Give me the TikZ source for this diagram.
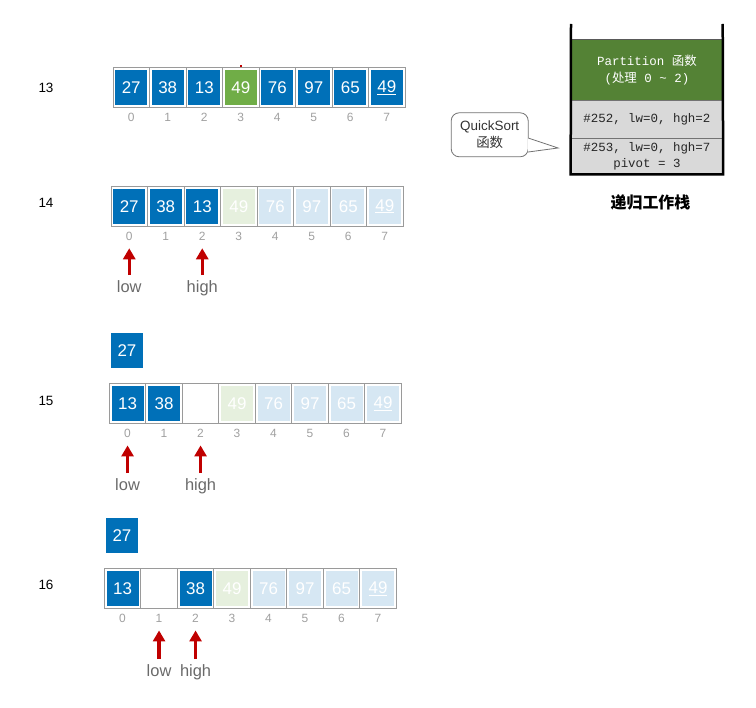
\documentclass[tikz,border=0pt]{standalone}
\usepackage{fontspec}
\setmainfont{Liberation Sans}
\newfontfamily\cjk{Noto Sans CJK SC}
\newfontfamily\mono{Liberation Mono}
\usetikzlibrary{arrows.meta}
\definecolor{cblue}{HTML}{0070B8}
\definecolor{cgreen}{HTML}{70AD47}
\definecolor{cpblue}{HTML}{D6E7F3}
\definecolor{cpgreen}{HTML}{E6F0DE}
\definecolor{cellline}{HTML}{9A9A9A}
\definecolor{idxgray}{HTML}{A0A0A0}
\definecolor{lblgray}{HTML}{6A6A6A}
\definecolor{arrred}{HTML}{C00000}
\definecolor{stkgreen}{HTML}{548235}
\definecolor{stkgray}{HTML}{D9D9D9}
\tikzset{
  cellbox/.style={draw=cellline, line width=1bp, fill=white, minimum width=36.5bp, minimum height=40.5bp, inner sep=0pt},
  cellin/.style={minimum width=32bp, minimum height=35bp, inner sep=0pt, text=white, font=\fontsize{17}{19}\selectfont},
  cb/.style={fill=cblue},
  cg/.style={fill=cgreen},
  cpb/.style={fill=cpblue},
  cpg/.style={fill=cpgreen},
  ce/.style={},
  idx/.style={text=idxgray, font=\fontsize{12}{13}\selectfont, inner sep=1bp, text height=8.5bp, text depth=0pt},
  rowlbl/.style={font=\fontsize{13.5}{15}\selectfont, text=black},
  ptr/.style={text=lblgray, font=\fontsize{16.5}{18}\selectfont, inner sep=0pt, text height=12bp, text depth=3.5bp},
  redarr/.style={draw=arrred, line width=3.2bp, -{Triangle[width=12bp,length=11bp]}, shorten <=5bp, shorten >=6.5bp},
  stkbox/.style={minimum width=151.7bp, inner sep=0pt, align=center},
  wall/.style={draw=black, line width=2.5bp}
}
\newcommand{\cellrow}[4]{% name, x0, yc, list
  \foreach \i/\v/\s in {#4} {
    \node[cellbox] (#1c\i) at ({#2+36.5*(\i+0.5)}, #3) {};
    \node[cellin,\s] (#1v\i) at (#1c\i) {\v};
    \node[idx] (#1i\i) at ({#2+36.5*(\i+0.5)}, #3+30) {\i};
  }
}
\begin{document}
\begin{tikzpicture}[x=1bp,y=-1bp]
\useasboundingbox (0,0) rectangle (756,708);

% row labels
\node[rowlbl] (l13) at (46,88) {13};
\node[rowlbl] (l14) at (46,203) {14};
\node[rowlbl] (l15) at (46,401) {15};
\node[rowlbl] (l16) at (46,585) {16};

% row 13
\cellrow{r13}{113}{87.5}{0/27/cb,1/38/cb,2/13/cb,3/49/cg,4/76/cb,5/97/cb,6/65/cb,7/\underline{49}/cb}
\draw[arrred, line width=1.5bp] (r13c3.north) -- ++(0,-2);

% row 14
\cellrow{r14}{111}{206.3}{0/27/cb,1/38/cb,2/13/cb,3/49/cpg,4/76/cpb,5/97/cpb,6/65/cpb,7/\underline{49}/cpb}
\node[ptr] (low14) at (r14i0 |- 0,288) {low};
\node[ptr] (high14) at (r14i2 |- 0,288) {high};
\draw[redarr] (low14.north) -- (r14i0.south);
\draw[redarr] (high14.north) -- (r14i2.south);

% row 15
\node[cellin,cb] (t15) at (127,350.3) {27};
\cellrow{r15}{109.3}{403.5}{0/13/cb,1/38/cb,2//ce,3/49/cpg,4/76/cpb,5/97/cpb,6/65/cpb,7/\underline{49}/cpb}
\node[ptr] (low15) at (r15i0 |- 0,486) {low};
\node[ptr] (high15) at (r15i2 |- 0,486) {high};
\draw[redarr] (low15.north) -- (r15i0.south);
\draw[redarr] (high15.north) -- (r15i2.south);

% row 16
\node[cellin,cb] (t16) at (122,535.3) {27};
\cellrow{r16}{104.3}{588.5}{0/13/cb,1//ce,2/38/cb,3/49/cpg,4/76/cpb,5/97/cpb,6/65/cpb,7/\underline{49}/cpb}
\node[ptr] (low16) at (r16i1 |- 0,672) {low};
\node[ptr] (high16) at (r16i2 |- 0,672) {high};
\draw[redarr] (low16.north) -- (r16i1.south);
\draw[redarr] (high16.north) -- (r16i2.south);

% recursion stack
\node[stkbox, minimum height=61.4bp, fill=stkgreen, draw=black!65, line width=1.2bp, text=white,
      font=\mono\fontsize{12.5}{16.5}\selectfont] (part) at (646.9,70)
      {Partition {\cjk 函数}\\({\cjk 处理} 0 \textasciitilde{} 2)};
\node[stkbox, minimum height=37.6bp, fill=stkgray, draw=black!55, line width=0.8bp, text=black!85,
      font=\mono\fontsize{12.5}{16.5}\selectfont] (f252) at (646.9,119.5) {\#252, lw=0, hgh=2};
\node[stkbox, minimum height=35.7bp, fill=stkgray, draw=black!55, line width=0.8bp, text=black!85,
      font=\mono\fontsize{12.5}{16.5}\selectfont] (f253) at (646.9,156.15) {\#253, lw=0, hgh=7\\pivot = 3};
\coordinate (stl) at (571,24);
\coordinate (str) at (722.7,24);
\draw[wall] (stl) -- (f253.south west) -- (f253.south east) -- (str);
\node[font=\cjk\bfseries\fontsize{16}{18}\selectfont] (stklbl) at (650.5,202.5) {递归工作栈};

% callout
\node[draw=black!55, line width=0.8bp, fill=white, rounded corners=8bp, minimum width=77bp, minimum height=44bp,
      inner sep=0pt, align=center, font=\fontsize{13.5}{17}\selectfont, text=black!80] (qs) at (489.7,134.8)
      {QuickSort\\{\cjk 函数}};
\coordinate (tip) at (558,148);
\coordinate (ta) at (528.2,138);
\coordinate (tb) at (528.2,152);
\draw[draw=black!55, line width=0.8bp, fill=white] (ta) -- (tip) -- (tb);
\draw[white, line width=1.2bp] ([yshift=-0.6bp]ta) -- ([yshift=0.6bp]tb);
\end{tikzpicture}
\end{document}
